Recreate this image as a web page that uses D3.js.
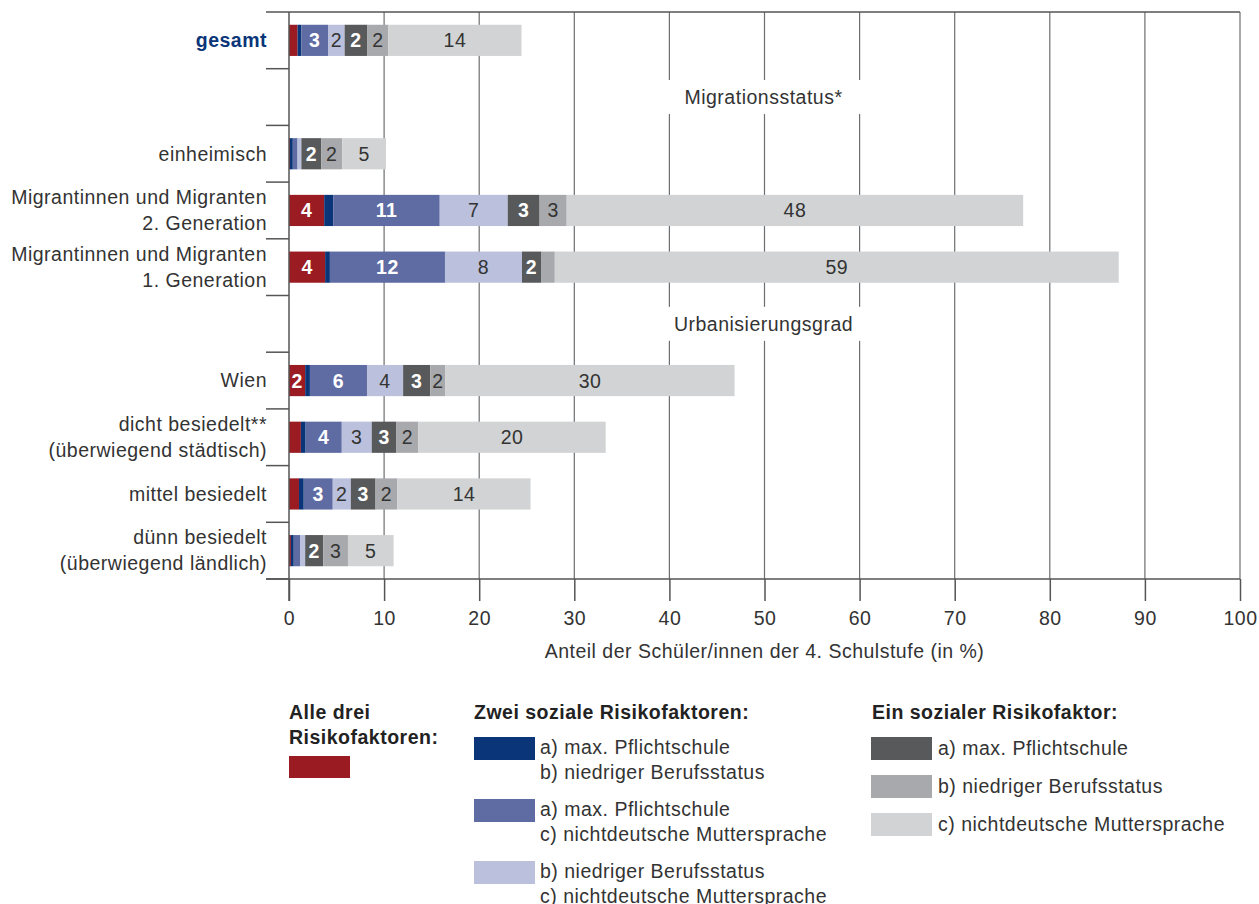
<!DOCTYPE html>
<html>
<head>
<meta charset="utf-8">
<script src="https://cdn.jsdelivr.net/npm/d3@7"></script>
<style>
  body { margin: 0; background: #fff; }
  text { font-family: "Liberation Sans", Arial, sans-serif; letter-spacing: 0.5px; }
</style>
</head>
<body>
<div id="chart"></div>
<script>
// rows of the chart (blank rows hold the group headings)
const rows = ['gesamt', 'blank1', 'einheimisch', 'mig2', 'mig1', 'blank2', 'wien', 'dicht', 'mittel', 'duenn'];
const rowLabels = {
    gesamt: ['gesamt'],
    einheimisch: ['einheimisch'],
    mig2: ['Migrantinnen und Migranten', '2. Generation'],
    mig1: ['Migrantinnen und Migranten', '1. Generation'],
    wien: ['Wien'],
    dicht: ['dicht besiedelt**', '(überwiegend städtisch)'],
    mittel: ['mittel besiedelt'],
    duenn: ['dünn besiedelt', '(überwiegend ländlich)']
};
const groupHeadings = [['blank1', 'Migrationsstatus*'], ['blank2', 'Urbanisierungsgrad']];

const seriesKeys = ['abc', 'ab', 'ac', 'bc', 'a', 'b', 'c'];
const seriesColors = ['#9b1b22', '#0a3578', '#5f6ba3', '#bbc0dc', '#58595b', '#a7a9ac', '#d1d3d4'];
const whiteText = [true, true, true, false, true, false, false];

// values per row, in order of seriesKeys
const dataRows = ['gesamt', 'einheimisch', 'mig2', 'mig1', 'wien', 'dicht', 'mittel', 'duenn'];
const vAbc = [0.9, 0.1, 3.7, 3.8, 1.7, 1.25, 1.05, 0.2];
const vAb  = [0.4, 0.3, 0.95, 0.5, 0.5, 0.5, 0.5, 0.3];
const vAc  = [2.8, 0.5, 11.2, 12.1, 6.0, 3.8, 3.05, 0.7];
const vBc  = [1.75, 0.4, 7.15, 8.1, 3.8, 3.15, 1.9, 0.5];
const vA   = [2.4, 2.1, 3.35, 2.0, 2.85, 2.6, 2.6, 1.9];
const vB   = [2.2, 2.2, 2.85, 1.45, 1.6, 2.3, 2.3, 2.6];
const vC   = [14.0, 4.6, 48.0, 59.3, 30.4, 19.7, 14.0, 4.8];

const xTicks = [0, 10, 20, 30, 40, 50, 60, 70, 80, 90, 100];
const xTitle = 'Anteil der Schüler/innen der 4. Schulstufe (in %)';

const legendAll = { title: ['Alle drei', 'Risikofaktoren:'] };
const legendTwo = { title: 'Zwei soziale Risikofaktoren:', items: [
    ['a) max. Pflichtschule', 'b) niedriger Berufsstatus'],
    ['a) max. Pflichtschule', 'c) nichtdeutsche Muttersprache'],
    ['b) niedriger Berufsstatus', 'c) nichtdeutsche Muttersprache']
] };
const legendOne = { title: 'Ein sozialer Risikofaktor:', items: [
    'a) max. Pflichtschule', 'b) niedriger Berufsstatus', 'c) nichtdeutsche Muttersprache'
] };

const W = 1259, H = 904;
const textColor = '#333';
const fs = 19.5;

const svg = d3.select('#chart').append('svg')
    .attr('width', W)
    .attr('height', H);

const x = d3.scaleLinear().domain([0, 100]).range([289, 1240]);
const y = d3.scaleBand().domain(rows).range([12, 579]).padding(0);
const barH = y.bandwidth() * 0.55;

// build table for stack
const table = dataRows.map((r, i) => ({
    row: r,
    abc: vAbc[i], ab: vAb[i], ac: vAc[i], bc: vBc[i], a: vA[i], b: vB[i], c: vC[i]
}));
const stacked = d3.stack().keys(seriesKeys)(table);

// gridlines
svg.append('g').selectAll('line')
    .data(xTicks.filter(t => t > 0))
    .join('line')
    .attr('x1', d => x(d)).attr('x2', d => x(d))
    .attr('y1', 12).attr('y2', 579)
    .attr('stroke', '#6d6e71')
    .attr('stroke-width', 1.2);

// headings with white background over gridlines
groupHeadings.forEach(([row, label]) => {
    const cy = y(row) + y.bandwidth() / 2;
    svg.append('rect')
        .attr('x', x(40) - 4).attr('width', x(60) - x(40) + 8)
        .attr('y', cy - 17).attr('height', 34)
        .attr('fill', '#fff');
    svg.append('text')
        .attr('x', x(50) - 1).attr('y', cy)
        .attr('dy', '0.35em')
        .attr('text-anchor', 'middle')
        .attr('font-size', fs)
        .attr('fill', textColor)
        .text(label);
});

// top frame line
svg.append('line')
    .attr('x1', 266).attr('x2', 1240)
    .attr('y1', 12).attr('y2', 12)
    .attr('stroke', '#555').attr('stroke-width', 1.5);

// category separator ticks
svg.append('g').selectAll('line')
    .data(rows.slice(1).concat(['end']))
    .join('line')
    .attr('x1', 266).attr('x2', 289)
    .attr('y1', d => d === 'end' ? 579 : y(d))
    .attr('y2', d => d === 'end' ? 579 : y(d))
    .attr('stroke', '#555').attr('stroke-width', 1.5);

// bars
const layer = svg.append('g').selectAll('g')
    .data(stacked)
    .join('g')
    .attr('fill', (d, i) => seriesColors[i]);

layer.selectAll('rect')
    .data(d => d)
    .join('rect')
    .attr('x', d => x(d[0]))
    .attr('width', d => x(d[1]) - x(d[0]))
    .attr('y', d => y(d.data.row) + (y.bandwidth() - barH) / 2)
    .attr('height', barH);

// value labels
stacked.forEach((s, si) => {
    svg.append('g').selectAll('text')
        .data(s.filter(d => Math.round(d[1] - d[0]) >= 2))
        .join('text')
        .attr('x', d => (x(d[0]) + x(d[1])) / 2)
        .attr('y', d => y(d.data.row) + y.bandwidth() / 2)
        .attr('dy', '0.36em')
        .attr('text-anchor', 'middle')
        .attr('font-size', fs)
        .attr('font-weight', whiteText[si] ? 'bold' : 'normal')
        .attr('fill', whiteText[si] ? '#fff' : textColor)
        .text(d => Math.round(d[1] - d[0]));
});

// row labels
rows.forEach(r => {
    const lines = rowLabels[r];
    if (!lines) return;
    const cy = y(r) + y.bandwidth() / 2;
    const lh = 26;
    const t = svg.append('text')
        .attr('text-anchor', 'end')
        .attr('font-size', fs)
        .attr('fill', r === 'gesamt' ? '#0a3578' : textColor)
        .attr('font-weight', r === 'gesamt' ? 'bold' : 'normal');
    lines.forEach((l, i) => {
        t.append('tspan')
            .attr('x', 267)
            .attr('y', cy + (i - (lines.length - 1) / 2) * lh)
            .attr('dy', '0.35em')
            .text(l);
    });
});

// x axis
const xAxis = d3.axisBottom(x).tickValues(xTicks).tickSize(22).tickPadding(10);
const ax = svg.append('g')
    .attr('transform', 'translate(0,579)')
    .call(xAxis);
ax.select('.domain').remove();
ax.selectAll('.tick line').attr('stroke', '#555').attr('stroke-width', 1.5);
ax.selectAll('.tick text')
    .attr('font-family', '"Liberation Sans", Arial, sans-serif')
    .attr('font-size', fs)
    .attr('fill', textColor);

svg.append('line')
    .attr('x1', 266).attr('x2', 1240)
    .attr('y1', 579).attr('y2', 579)
    .attr('stroke', '#555').attr('stroke-width', 1.5);
// y axis line
svg.append('line')
    .attr('x1', 289).attr('x2', 289)
    .attr('y1', 12).attr('y2', 601)
    .attr('stroke', '#555').attr('stroke-width', 1.5);

svg.append('text')
    .attr('x', x(50)).attr('y', 651)
    .attr('dy', '0.35em')
    .attr('text-anchor', 'middle')
    .attr('font-size', fs)
    .attr('fill', textColor)
    .text(xTitle);

// legend
const leg = svg.append('g').attr('font-size', fs).attr('fill', textColor);

legendAll.title.forEach((l, i) => {
    leg.append('text').attr('x', 289).attr('y', 712 + i * 25).attr('dy', '0.35em')
        .attr('font-weight', 'bold').attr('fill', '#222').text(l);
});
leg.append('rect').attr('x', 289).attr('y', 756).attr('width', 61).attr('height', 22)
    .attr('fill', seriesColors[0]);

leg.append('text').attr('x', 474).attr('y', 712).attr('dy', '0.35em')
    .attr('font-weight', 'bold').attr('fill', '#222').text(legendTwo.title);
legendTwo.items.forEach((lines, i) => {
    const top = 737 + i * 62;
    leg.append('rect').attr('x', 474).attr('y', top).attr('width', 61).attr('height', 23)
        .attr('fill', seriesColors[1 + i]);
    lines.forEach((l, j) => {
        leg.append('text').attr('x', 540).attr('y', top + 10 + j * 25).attr('dy', '0.35em')
            .text(l);
    });
});

leg.append('text').attr('x', 872).attr('y', 712).attr('dy', '0.35em')
    .attr('font-weight', 'bold').attr('fill', '#222').text(legendOne.title);
legendOne.items.forEach((l, i) => {
    const top = 737 + i * 38;
    leg.append('rect').attr('x', 871).attr('y', top).attr('width', 61).attr('height', 23)
        .attr('fill', seriesColors[4 + i]);
    leg.append('text').attr('x', 938).attr('y', top + 11).attr('dy', '0.35em').text(l);
});
</script>
</body>
</html>
